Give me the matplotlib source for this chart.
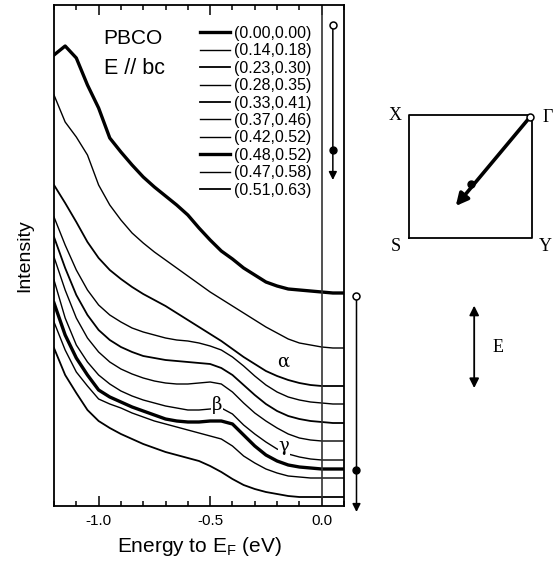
import numpy as np
import matplotlib
matplotlib.use('Agg')
import matplotlib.pyplot as plt
from matplotlib.ticker import MultipleLocator

plt.rcParams['font.family'] = ['Liberation Sans', 'DejaVu Sans']
plt.rcParams['mathtext.fontset'] = 'custom'
plt.rcParams['mathtext.rm'] = 'Liberation Sans'
plt.rcParams['axes.unicode_minus'] = False

# Energy grid (eV, relative to E_F)
energy = [-1.2, -1.15, -1.1, -1.05, -1.0, -0.95, -0.9, -0.85, -0.8, -0.75,
          -0.7, -0.65, -0.6, -0.55, -0.5, -0.45, -0.4, -0.35, -0.3, -0.25,
          -0.2, -0.15, -0.1, -0.05, 0.0, 0.05, 0.1]

# Spectra (offset intensity, arb. units), top to bottom
s1 = [451, 460, 448, 421, 398, 368, 354, 341, 329, 319, 310, 301, 291, 278,
      266, 255, 247, 238, 231, 224, 220, 217, 216, 215, 214, 213, 213]
s2 = [411, 384, 369, 351, 321, 301, 286, 273, 263, 254, 246, 238, 230, 222,
      214, 207, 200, 193, 186, 179, 173, 167, 163, 161, 159, 158, 158]
s3 = [321, 303, 284, 264, 248, 236, 227, 219, 212, 206, 200, 193, 186, 179,
      172, 165, 157, 149, 142, 135, 130, 126, 123, 121, 120, 120, 120]
s4 = [289, 261, 236, 216, 201, 191, 184, 178, 174, 171, 168, 166, 165, 163,
      160, 156, 149, 140, 130, 121, 114, 109, 106, 104, 103, 102, 102]
s5 = [269, 238, 211, 191, 176, 166, 159, 154, 150, 148, 146, 145, 144, 143,
      142, 138, 131, 121, 111, 102, 95, 90, 87, 85, 84, 83, 83]
s6 = [249, 216, 188, 168, 154, 144, 137, 132, 128, 125, 123, 122, 122, 123,
      124, 122, 114, 103, 93, 85, 78, 72, 68, 66, 65, 65, 65]
s7 = [226, 188, 161, 144, 131, 122, 115, 110, 106, 103, 100, 98, 96, 96,
      97, 98, 92, 81, 72, 64, 57, 52, 49, 47, 46, 46, 46]
s8 = [203, 171, 148, 131, 116, 109, 104, 99, 95, 91, 87, 85, 84, 84,
      85, 85, 82, 71, 60, 51, 45, 41, 39, 38, 37, 37, 37]
s9 = [184, 156, 134, 120, 107, 102, 98, 93, 89, 85, 82, 79, 76, 73,
      70, 67, 60, 50, 43, 37, 33, 30, 29, 28, 28, 28, 28]
s10 = [158, 131, 113, 96, 85, 78, 72, 67, 62, 58, 54, 51, 48, 45,
       40, 34, 27, 21, 17, 14, 12, 10, 9, 9, 9, 9, 9]

spectra = [s1, s2, s3, s4, s5, s6, s7, s8, s9, s10]
k_labels = ['(0.00,0.00)', '(0.14,0.18)', '(0.23,0.30)', '(0.28,0.35)',
            '(0.33,0.41)', '(0.37,0.46)', '(0.42,0.52)', '(0.48,0.52)',
            '(0.47,0.58)', '(0.51,0.63)']
widths = [2.4, 1.0, 1.3, 1.0, 1.3, 1.0, 1.0, 2.4, 1.0, 1.3]

fig = plt.figure(figsize=(5.53, 5.63), dpi=100)
ax = fig.add_axes([54/553, 57/563, 290/553, 501/563])

lines = []
for s, w in zip(spectra, widths):
    l, = ax.plot(energy, s, color='k', lw=w)
    lines.append(l)

ax.axvline(0.0, color='#333333', lw=1.2)

ax.set_xlim(-1.2, 0.1)
ax.set_ylim(0, 501)
ax.set_xticks([-1.0, -0.5, 0.0])
ax.set_xticklabels(['-1.0', '-0.5', '0.0'])
ax.xaxis.set_minor_locator(MultipleLocator(0.1))
ax.tick_params(which='both', direction='in', top=True, left=False,
               labelleft=False, labelsize=11, width=1.1, pad=6)
ax.tick_params(which='major', length=7)
ax.tick_params(which='minor', length=3.5)
for sp in ax.spines.values():
    sp.set_linewidth(1.3)

ax.set_xlabel('Energy to E$_{\\rm F}$ (eV)', fontsize=15, labelpad=5)
ax.set_ylabel('Intensity', fontsize=14, labelpad=15)

# Texts
ax.text(-0.978, 468, 'PBCO', fontsize=15, ha='left', va='center')
ax.text(-0.978, 438, 'E // bc', fontsize=15.5, ha='left', va='center')
ax.text(-0.174, 144, 'α', fontsize=13, family='DejaVu Serif',
        ha='center', va='center')
ax.text(-0.469, 101, 'β', fontsize=13, family='DejaVu Serif',
        ha='center', va='center',
        bbox=dict(facecolor='white', edgecolor='none', pad=0.5))
ax.text(-0.17, 60, 'γ', fontsize=13, family='DejaVu Serif',
        ha='center', va='center',
        bbox=dict(facecolor='white', edgecolor='none', pad=0.5))

leg = ax.legend(lines, k_labels, loc='upper left', bbox_to_anchor=(0.503, 0.958),
                frameon=False, fontsize=11.5, handlelength=1.9, handletextpad=0.25,
                labelspacing=0.15, borderpad=0, borderaxespad=0)

# Path arrows (k along Gamma -> ...)
ax.annotate('', xy=(0.05, 326), xytext=(0.05, 481),
            arrowprops=dict(arrowstyle='-|>', color='k', lw=1.1, mutation_scale=12,
                            shrinkA=0, shrinkB=0))
ax.plot([0.05], [481], 'o', mfc='white', mec='k', ms=5, mew=1.1, zorder=5)
ax.plot([0.05], [356], 'o', color='k', ms=5, zorder=5)

ax.annotate('', xy=(0.156, -6), xytext=(0.156, 210), annotation_clip=False,
            arrowprops=dict(arrowstyle='-|>', color='k', lw=1.1, mutation_scale=12,
                            shrinkA=0, shrinkB=0))
ax.plot([0.156], [210], 'o', mfc='white', mec='k', ms=5, mew=1.1, clip_on=False, zorder=5)
ax.plot([0.156], [36], 'o', color='k', ms=5, clip_on=False, zorder=5)

# Brillouin zone sketch
bz = fig.add_axes([409/553, 325/563, 123/553, 123/563])
bz.set_xlim(0, 1)
bz.set_ylim(0, 1)
bz.axis('off')
bz.plot([0, 1, 1, 0, 0], [0, 0, 1, 1, 0], color='k', lw=1.3, clip_on=False)
bz.annotate('', xy=(0.38, 0.26), xytext=(0.985, 0.985), annotation_clip=False,
            arrowprops=dict(arrowstyle='-|>', color='k', lw=2.6, mutation_scale=18,
                            shrinkA=0, shrinkB=0))
bz.plot([0.985], [0.985], 'o', mfc='white', mec='k', ms=5, mew=1.1, clip_on=False, zorder=5)
bz.plot([0.50], [0.44], 'o', color='k', ms=5, clip_on=False, zorder=5)
serif = 'Liberation Serif'
bz.text(-0.11, 1.0, 'X', fontsize=13, family=serif, ha='center', va='center')
bz.text(1.13, 0.98, 'Γ', fontsize=13, family=serif, ha='center', va='center')
bz.text(-0.11, -0.07, 'S', fontsize=13, family=serif, ha='center', va='center')
bz.text(1.11, -0.07, 'Y', fontsize=13, family=serif, ha='center', va='center')
bz.annotate('', xy=(0.53, -1.22), xytext=(0.53, -0.55), annotation_clip=False,
            arrowprops=dict(arrowstyle='<|-|>', color='k', lw=1.3, mutation_scale=14,
                            shrinkA=0, shrinkB=0))
bz.text(0.72, -0.89, 'E', fontsize=13, family=serif, ha='center', va='center')

fig.savefig('out.png', dpi=100)
